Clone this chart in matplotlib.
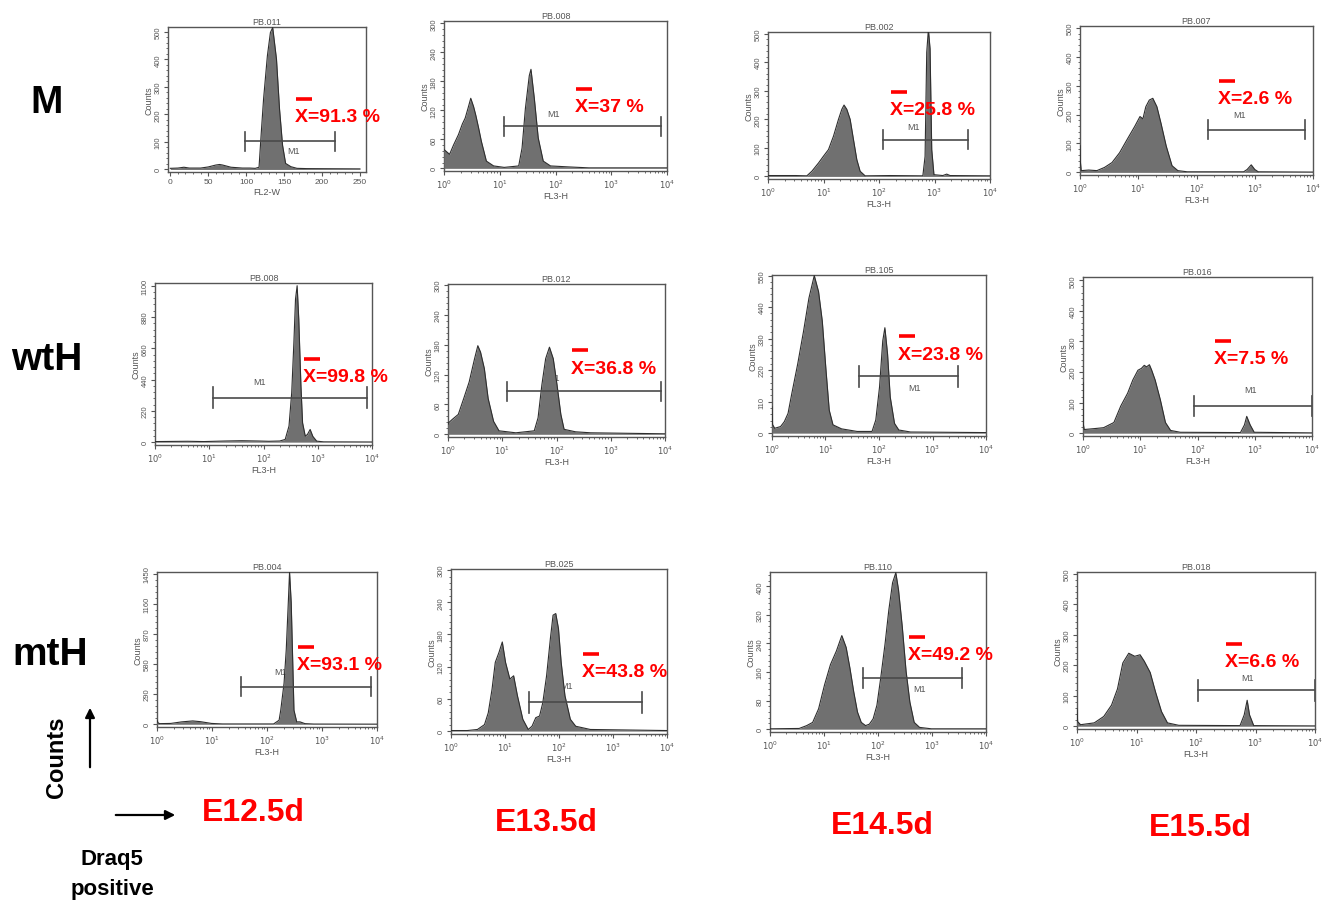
import numpy as np
import matplotlib
matplotlib.use('Agg')
import matplotlib.pyplot as plt
from matplotlib.lines import Line2D
from matplotlib.patches import FancyArrowPatch
from matplotlib.ticker import AutoMinorLocator, LogLocator, NullFormatter

plt.rcParams['font.family'] = ['Liberation Sans', 'DejaVu Sans']

# ---- labels ----
rows = ['M', 'wtH', 'mtH']
days = ['E12.5d', 'E13.5d', 'E14.5d', 'E15.5d']
titles = ['PB.011', 'PB.008', 'PB.002', 'PB.007',
          'PB.008', 'PB.012', 'PB.105', 'PB.016',
          'PB.004', 'PB.025', 'PB.110', 'PB.018']
xlabels = ['FL2-W'] + ['FL3-H'] * 11
percents = ['91.3', '37', '25.8', '2.6', '99.8', '36.8', '23.8', '7.5',
            '93.1', '43.8', '49.2', '6.6']
y_tick_step = [100, 60, 100, 100, 220, 60, 110, 100, 290, 60, 80, 100]
y_tick_max = [500, 300, 500, 500, 1100, 300, 550, 500, 1450, 300, 400, 500]
y_top = [518, 305, 506, 506, 1119, 302, 552, 511, 1466, 302, 440, 505]

# ---- M1 gates (panel 1 in FL2-W channels, others in decades of FL3-H) ----
gate_lo = [98, 1.07, 2.08, 2.19, 1.06, 1.08, 1.62, 1.94, 1.53, 1.45, 1.72, 2.03]
gate_hi = [217, 3.89, 3.60, 3.87, 3.90, 3.93, 3.48, 4.0, 3.89, 3.54, 3.55, 4.0]
gate_y = [102, 87, 129, 148, 313, 86, 198, 90, 363, 54, 143, 117]
gate_lab_x = [163, 1.97, 2.62, 2.74, 1.93, 1.94, 2.66, 2.92, 2.25, 2.14, 2.77, 2.87]
gate_lab_y = [70, 114, 176, 199, 423, 115, 161, 144, 509, 84, 114, 160]

# ---- histogram outlines (x, counts) ----
p1_x = [0, 10, 18, 25, 40, 50, 60, 65, 69, 80, 95, 105, 112, 117, 120, 123, 128, 132, 135, 137, 140, 144, 148, 152, 159, 167, 180, 250]
p1_y = [4, 5, 8, 5, 5, 9, 16, 18, 16, 8, 5, 5, 4, 8, 136, 257, 413, 498, 516, 470, 401, 220, 88, 22, 10, 4, 3, 2]

p2_dec = [0, 0.10, 0.17, 0.26, 0.33, 0.38, 0.43, 0.48, 0.53, 0.57, 0.62, 0.67, 0.76, 0.89, 1.08, 1.34, 1.40, 1.46, 1.53, 1.56, 1.62, 1.69, 1.78, 1.91, 2.23, 2.6, 4]
p2_y = [39, 29, 48, 70, 92, 104, 124, 145, 128, 110, 84, 56, 15, 5, 2, 5, 42, 124, 192, 205, 145, 63, 15, 5, 3, 1, 1]

p3_dec = [0, 0.5, 0.70, 0.79, 0.91, 1.0, 1.09, 1.18, 1.27, 1.33, 1.37, 1.42, 1.48, 1.54, 1.60, 1.66, 1.75, 2.2, 2.79, 2.83, 2.86, 2.89, 2.92, 2.95, 2.99, 3.15, 3.22, 3.28, 4]
p3_y = [3, 3, 2, 18, 47, 71, 94, 141, 200, 235, 250, 235, 200, 129, 59, 18, 2, 3, 2, 70, 435, 515, 447, 94, 6, 3, 8, 3, 2]

p4_dec = [0, 0.005, 0.02, 0.15, 0.29, 0.42, 0.55, 0.68, 0.81, 0.94, 1.03, 1.08, 1.13, 1.19, 1.25, 1.32, 1.39, 1.48, 1.58, 1.68, 1.84, 2.81, 2.87, 2.94, 3.0, 3.06, 4]
p4_y = [92, 40, 6, 8, 6, 17, 34, 68, 114, 159, 193, 185, 227, 250, 256, 227, 170, 91, 23, 6, 2, 2, 10, 26, 10, 2, 1]

p5_dec = [0, 0.6, 0.9, 1.3, 1.6, 1.9, 2.1, 2.30, 2.40, 2.47, 2.52, 2.56, 2.59, 2.62, 2.65, 2.69, 2.72, 2.77, 2.81, 2.86, 2.91, 2.98, 3.11, 4]
p5_y = [4, 6, 4, 8, 10, 8, 6, 8, 19, 113, 348, 700, 1006, 1100, 865, 395, 136, 42, 54, 89, 40, 7, 2, 1]

p6_dec = [0, 0.01, 0.08, 0.19, 0.29, 0.39, 0.49, 0.55, 0.60, 0.67, 0.74, 0.84, 0.94, 1.25, 1.59, 1.66, 1.73, 1.80, 1.87, 1.94, 2.01, 2.08, 2.14, 2.35, 2.63, 4]
p6_y = [20, 23, 30, 40, 72, 105, 152, 178, 165, 132, 72, 26, 7, 3, 7, 33, 99, 152, 175, 152, 99, 40, 10, 5, 3, 1]

p7_dec = [0, 0.01, 0.05, 0.16, 0.23, 0.30, 0.37, 0.48, 0.59, 0.69, 0.79, 0.87, 0.94, 1.01, 1.07, 1.14, 1.30, 1.59, 1.87, 1.94, 2.01, 2.07, 2.11, 2.16, 2.21, 2.29, 2.37, 2.59, 4]
p7_y = [92, 30, 17, 23, 40, 69, 138, 241, 356, 471, 550, 494, 391, 218, 80, 29, 15, 6, 6, 46, 161, 322, 368, 276, 126, 34, 11, 4, 2]

p8_dec = [0, 0.005, 0.02, 0.2, 0.36, 0.54, 0.66, 0.78, 0.87, 0.96, 1.02, 1.07, 1.11, 1.16, 1.20, 1.26, 1.35, 1.44, 1.53, 1.7, 2.75, 2.82, 2.86, 2.92, 2.99, 4]
p8_y = [165, 30, 12, 15, 18, 35, 89, 131, 174, 206, 212, 222, 217, 224, 206, 174, 110, 35, 9, 3, 2, 27, 55, 27, 3, 1]

p9_dec = [0, 0.02, 0.05, 0.25, 0.45, 0.65, 0.79, 0.99, 1.19, 2.12, 2.22, 2.25, 2.31, 2.35, 2.39, 2.41, 2.44, 2.47, 2.49, 2.54, 2.60, 2.69, 2.85, 4]
p9_y = [39, 12, 6, 8, 23, 32, 25, 8, 3, 3, 39, 136, 395, 719, 1205, 1465, 1173, 557, 136, 23, 23, 6, 2, 1]

p10_dec = [0, 0.3, 0.49, 0.62, 0.69, 0.76, 0.82, 0.89, 0.95, 1.01, 1.09, 1.16, 1.23, 1.33, 1.43, 1.50, 1.57, 1.64, 1.70, 1.77, 1.84, 1.89, 1.94, 1.99, 2.04, 2.11, 2.21, 2.31, 2.58, 4]
p10_y = [1, 1, 3, 12, 34, 78, 128, 147, 166, 128, 97, 103, 66, 22, 3, 9, 25, 28, 53, 103, 172, 216, 219, 191, 128, 66, 22, 9, 3, 1]

p11_dec = [0, 0.54, 0.68, 0.79, 0.90, 1.01, 1.12, 1.23, 1.33, 1.41, 1.48, 1.55, 1.62, 1.69, 1.77, 1.84, 1.91, 1.98, 2.05, 2.13, 2.20, 2.27, 2.33, 2.38, 2.45, 2.52, 2.59, 2.67, 2.77, 2.99, 4]
p11_y = [1, 2, 10, 19, 57, 124, 181, 219, 262, 229, 171, 105, 48, 19, 10, 14, 29, 67, 143, 238, 333, 410, 438, 390, 286, 162, 76, 19, 5, 1, 1]

p12_dec = [0, 0.01, 0.06, 0.29, 0.45, 0.58, 0.68, 0.77, 0.87, 0.97, 1.06, 1.13, 1.23, 1.32, 1.42, 1.52, 1.71, 2.74, 2.81, 2.86, 2.90, 2.97, 4]
p12_y = [58, 15, 5, 11, 32, 69, 122, 207, 239, 229, 234, 213, 176, 112, 48, 11, 3, 2, 37, 85, 37, 2, 1]

hist_x = [p1_x, p2_dec, p3_dec, p4_dec, p5_dec, p6_dec, p7_dec, p8_dec, p9_dec, p10_dec, p11_dec, p12_dec]
hist_y = [p1_y, p2_y, p3_y, p4_y, p5_y, p6_y, p7_y, p8_y, p9_y, p10_y, p11_y, p12_y]

# ---- layout (pixels in the 1331x904 figure) ----
W, H = 1331, 904
boxes = [(168, 28, 366, 173), (444, 22, 667, 172), (768, 33, 990, 180), (1080, 27, 1313, 176),
         (155, 284, 372, 446), (448, 285, 665, 438), (772, 276, 986, 437), (1083, 278, 1312, 437),
         (157, 573, 377, 728), (451, 570, 667, 735), (770, 573, 986, 733), (1077, 573, 1315, 730)]
note_pos = [(295, 118), (575, 108), (890, 111), (1218, 100),
            (303, 378), (571, 369), (898, 355), (1214, 360),
            (297, 666), (582, 673), (908, 656), (1225, 663)]
row_pos = [(47, 103), (47, 360), (50, 655)]
day_pos = [(253, 813), (546, 823), (882, 826), (1200, 828)]

fill_col = '#707070'
edge_col = '#2e2e2e'
frame_col = '#555555'
text_col = '#555555'

fig = plt.figure(figsize=(W / 100, H / 100), dpi=100)


def fx(px):
  return px / W


def fy(py):
  return 1 - py / H


for i in range(12):
  l, t, r, b = boxes[i]
  ax = fig.add_axes([fx(l), fy(b), fx(r - l), (b - t) / H])
  logx = i > 0
  xs = np.array(hist_x[i], dtype=float)
  gl, gh, glx = gate_lo[i], gate_hi[i], gate_lab_x[i]
  if logx:
    xs = 10 ** xs
    gl, gh, glx = 10 ** gl, 10 ** gh, 10 ** glx
    ax.set_xscale('log')
    ax.set_xlim(1, 1e4)
    ax.set_xticks([1, 10, 100, 1000, 10000])
    ax.set_xticklabels([r'$10^{%d}$' % k for k in range(5)])
    ax.xaxis.set_minor_locator(LogLocator(base=10, subs=np.arange(2, 10)))
    ax.xaxis.set_minor_formatter(NullFormatter())
  else:
    ax.set_xlim(-3, 258)
    ax.set_xticks(np.arange(0, 251, 50))
    ax.xaxis.set_minor_locator(AutoMinorLocator(5))
  top = y_top[i]
  ax.set_ylim(-0.018 * top, top)
  ax.set_yticks(np.arange(0, y_tick_max[i] + 1, y_tick_step[i]))
  ax.yaxis.set_minor_locator(AutoMinorLocator(5))

  ax.fill_between(xs, hist_y[i], 0, color=fill_col, lw=0, zorder=3)
  ax.plot(xs, hist_y[i], color=edge_col, lw=0.8, zorder=4)

  # M1 gate
  cap = 0.065 * top
  ax.plot([gl, gh], [gate_y[i], gate_y[i]], color='#4a4a4a', lw=1.2, zorder=5)
  for g in (gl, gh):
    ax.plot([g, g], [gate_y[i] - cap, gate_y[i] + cap], color='#4a4a4a', lw=1.2, zorder=5)
  ax.text(glx, gate_lab_y[i], 'M1', fontsize=6.5, color=text_col, ha='center', va='center', zorder=2)

  ax.set_title(titles[i], fontsize=6.5, color=text_col, pad=2)
  ax.set_xlabel(xlabels[i], fontsize=6.5, color=text_col, labelpad=1)
  ax.set_ylabel('Counts', fontsize=6.5, color=text_col, labelpad=1)
  ax.tick_params(axis='both', which='major', direction='out', length=3, width=0.8,
                 colors=text_col, labelsize=6, pad=1.5)
  ax.tick_params(axis='y', which='major', labelsize=5.5)
  ax.tick_params(axis='both', which='minor', direction='out', length=1.5, width=0.6, colors=text_col)
  for lab in ax.get_yticklabels():
    lab.set_rotation(90)
    lab.set_va('center')
  for sp in ax.spines.values():
    sp.set_color(frame_col)
    sp.set_linewidth(1.0)
  ax.set_facecolor('white')

  # red mean annotation with overline
  nx, ny = note_pos[i]
  fig.text(fx(nx), fy(ny), 'X=' + percents[i] + ' %', color='#ff0000', fontsize=14,
           fontweight='bold', ha='left', va='center')
  fig.add_artist(Line2D([fx(nx + 1), fx(nx + 17)], [fy(ny - 18), fy(ny - 18)],
                        color='#ff0000', lw=2.6, solid_capstyle='butt'))

for k, name in enumerate(rows):
  fig.text(fx(row_pos[k][0]), fy(row_pos[k][1]), name, fontsize=28, fontweight='bold',
           ha='center', va='center', color='black')

for k, name in enumerate(days):
  fig.text(fx(day_pos[k][0]), fy(day_pos[k][1]), name, fontsize=23, fontweight='bold',
           ha='center', va='center', color='#ff0000')

fig.text(fx(57), fy(757), 'Counts', rotation=90, fontsize=17, fontweight='bold',
         ha='center', va='center')
fig.text(fx(112), fy(860), 'Draq5', fontsize=16, fontweight='bold', ha='center', va='center')
fig.text(fx(112), fy(890), 'positive', fontsize=16, fontweight='bold', ha='center', va='center')

fig.add_artist(FancyArrowPatch((fx(90), fy(771)), (fx(90), fy(706)), transform=fig.transFigure,
                               arrowstyle='-|>', mutation_scale=14, color='black', lw=1.6))
fig.add_artist(FancyArrowPatch((fx(113), fy(816)), (fx(178), fy(816)), transform=fig.transFigure,
                               arrowstyle='-|>', mutation_scale=14, color='black', lw=1.6))

fig.savefig('out.png', dpi=100)
